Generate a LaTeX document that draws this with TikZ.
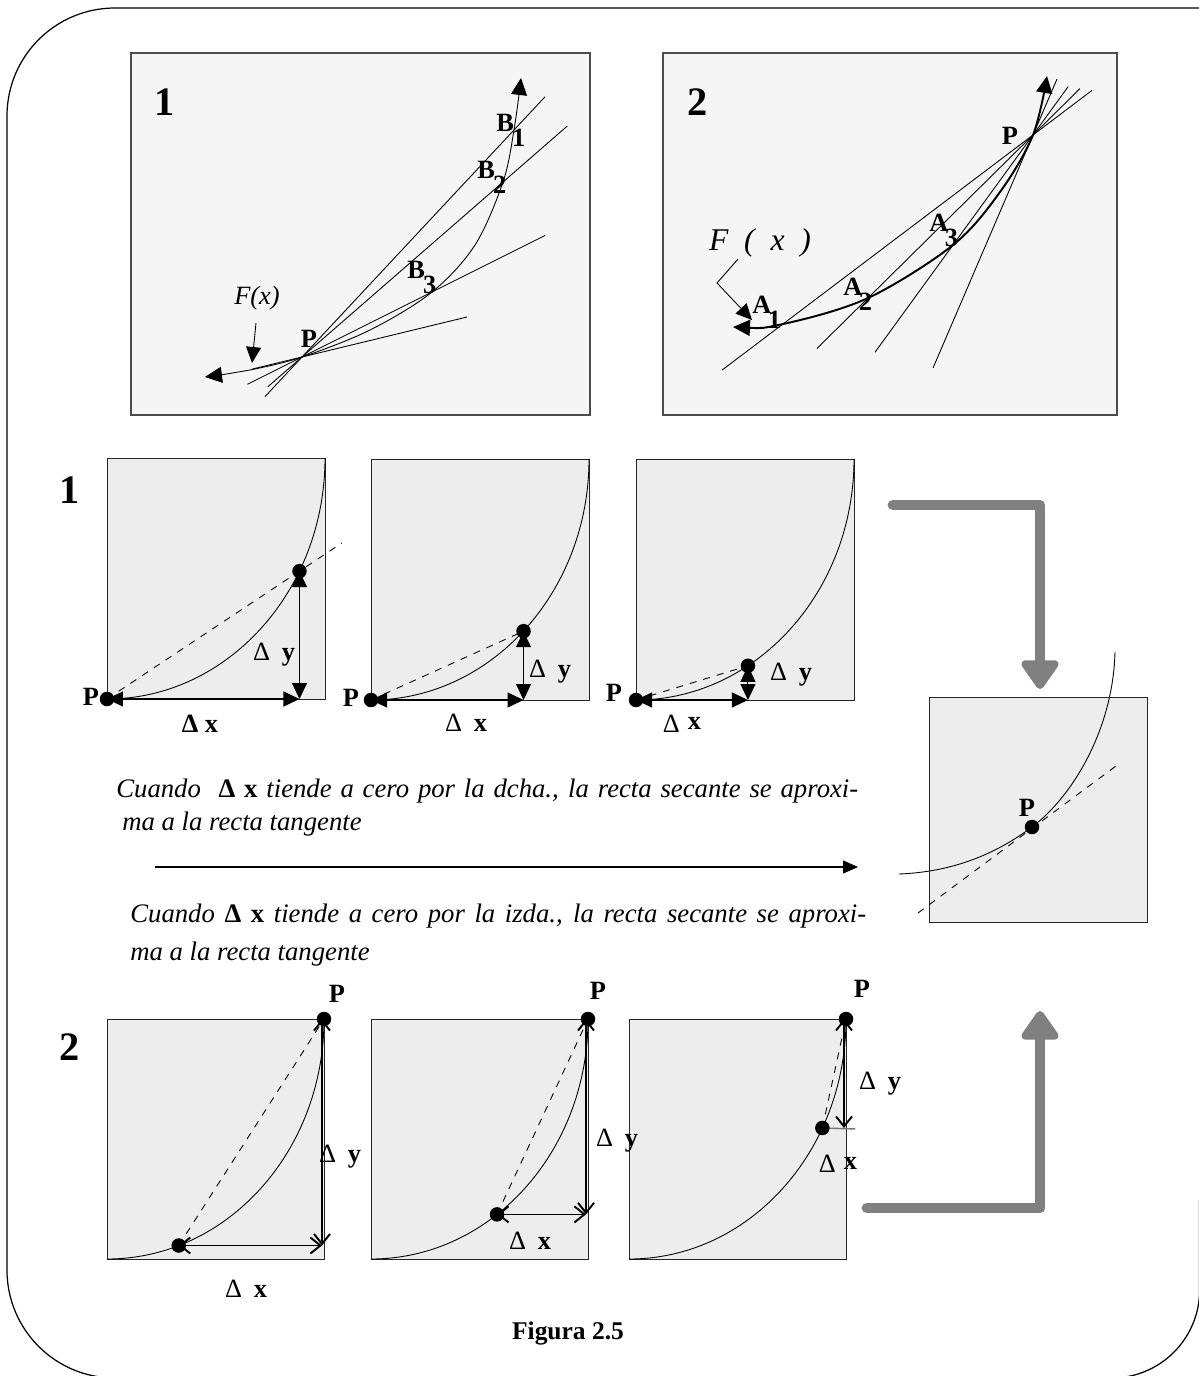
\documentclass[tikz,border=0pt]{standalone}
\usepackage{fontspec}
\setmainfont{Liberation Serif}
\usepackage{tikz}
\usetikzlibrary{arrows.meta,positioning,calc}

\newcommand{\dlt}[1]{{\mdseries Δ}\hspace{0.45em}\textbf{#1}}

\begin{document}
\begin{tikzpicture}[
  x=0.02cm, y=-0.02cm,
  font=\fontsize{14}{16}\selectfont,
  panel/.style={draw=black!70, fill=black!4, line width=0.6pt},
  cell/.style={draw=black!85, fill=black!7, line width=0.5pt},
  fine/.style={line width=0.5pt},
  sec/.style={dash pattern=on 4pt off 4pt, line width=0.5pt},
  pt/.style={circle, fill=black, inner sep=0pt, minimum size=0.29cm},
  lbl/.style={font=\fontsize{15}{17}\selectfont\bfseries, inner sep=0pt},
  big/.style={font=\fontsize{23}{26}\selectfont\bfseries, inner sep=0pt},
  note/.style={font=\fontsize{15.2}{18}\selectfont\itshape, anchor=base west, inner sep=0pt},
  solid tip/.style={{Triangle[length=0.32cm,width=0.3cm]}-{Triangle[length=0.32cm,width=0.3cm]}, line width=0.6pt},
  open tip/.style={{Straight Barb[length=0.2cm,width=0.32cm,line width=1.1pt]}-{Straight Barb[length=0.2cm,width=0.32cm,line width=1.1pt]}, line width=0.6pt},
  curve tip/.style={{Triangle[length=0.34cm,width=0.32cm]}-{Triangle[length=0.34cm,width=0.32cm]}},
  lead tip/.style={-{Triangle[length=0.32cm,width=0.3cm]}, line width=0.5pt},
  bigarrow/.style={line width=6.2pt, draw=black!50, line cap=round, line join=round,
                   -{Triangle[round,length=0.64cm,width=0.84cm]}},
]
\useasboundingbox (0,0) rectangle (1199,1376);

%─── Outer frame ──────────────────────────────────────────────────────────────
\draw[line width=0.7pt, rounded corners=2.16cm] (1210,8) -- (7,8) -- (7,1378) -- (700,1378);
\draw[line width=0.7pt, rounded corners=1.76cm] (700,1378) -- (1199.6,1378) -- (1199.6,1200);

%─── Panel 1 (top left): secants through P towards B_i ───────────────────────
\draw[panel] (131,53) rectangle (590,415);
\node[big] (n1top) at (165,102) {1};

\coordinate (P1) at (302,357);
\coordinate (B1) at (514,130);
\coordinate (B2) at (503,182);
\coordinate (B3) at (432,292);
\coordinate (T1) at (467,317);

\draw[fine] ($(P1)!-0.175!(B1)$) -- ($(P1)!1.146!(B1)$);
\draw[fine] ($(P1)!-0.17!(B2)$) -- ($(P1)!1.32!(B2)$);
\draw[fine] ($(P1)!-0.42!(B3)$) -- ($(P1)!1.87!(B3)$);
\draw[fine] ($(P1)!-0.3!(T1)$) -- (T1);

\draw[fine, curve tip] plot[smooth, tension=0.55] coordinates
      {(205,377) (250,370) (302,357) (370,330) (432,292) (475,245) (503,182) (514,130) (521,78)};

\node[lbl] (lP1) at (309,339) {P};
\node[lbl, anchor=base west] (lB1) at (496,131) {B\kern-1pt\raisebox{-0.6em}{1}};
\node[lbl, anchor=base west] (lB2) at (477,178) {B\kern-1pt\raisebox{-0.6em}{2}};
\node[lbl, anchor=base west] (lB3) at (407,278) {B\kern-1pt\raisebox{-0.6em}{3}};

\node[font=\fontsize{15}{17}\selectfont\itshape] (F1) at (257,298) {F(x)};
\coordinate (f1a) at (256,323);
\coordinate (f1b) at (252,363);
\draw[lead tip] (f1a) -- (f1b);

%─── Panel 2 (top right): secants through P towards A_i ──────────────────────
\draw[panel] (663,53) rectangle (1117,415);
\node[big] (n2top) at (698,102) {2};

\coordinate (P2) at (1033,135);
\coordinate (A1) at (783,324);
\coordinate (A2) at (868,298);
\coordinate (A3) at (953,245);
\coordinate (T2) at (933,368);

\draw[fine] ($(P2)!1.244!(A1)$) -- ($(P2)!-0.236!(A1)$);
\draw[fine] ($(P2)!1.31!(A2)$) -- ($(P2)!-0.285!(A2)$);
\draw[fine] ($(P2)!1.975!(A3)$) -- ($(P2)!-0.44!(A3)$);
\draw[fine] (T2) -- ($(P2)!-0.24!(T2)$);

\draw[line width=1.1pt, curve tip] plot[smooth, tension=0.55] coordinates
      {(733,327) (783,324) (868,298) (953,245) (1000,192) (1033,135) (1047,76)};

\node[lbl] (lP2) at (1010,136) {P};
\node[lbl, anchor=base west] (lA1) at (752,313) {A\kern-2pt\raisebox{-0.6em}{1}};
\node[lbl, anchor=base west] (lA2) at (843,295) {A\kern-2pt\raisebox{-0.6em}{2}};
\node[lbl, anchor=base west] (lA3) at (929,231) {A\kern-2pt\raisebox{-0.6em}{3}};

\node[font=\fontsize{18}{20}\selectfont\itshape] (F2) at (760,243) {F\ \ (\ \ x\ \ )};
\coordinate (f2a) at (738,259);
\coordinate (f2b) at (717,283);
\coordinate (f2c) at (752,320);
\draw[lead tip] (f2a) -- (f2b) -- (f2c);

%─── Row 1: Delta x -> 0 from the right ──────────────────────────────────────
\node[big] (n1mid) at (70,490) {1};

\foreach \ox/\oy/\t [count=\i] in {107/458/62, 371/459/44.4, 636/459/30.9} {
  \begin{scope}[shift={(\ox,\oy)}]
    \draw[cell] (0,0) rectangle (218,241);
    \draw[fine] (0,241) .. controls (120,241) and (218,133) .. (218,0);
    \coordinate (rp-\i) at (0,241);
    \coordinate (rq-\i) at ({218*sin(\t)},{241*cos(\t)});
    \coordinate (rc-\i) at ({218*sin(\t)},241);
  \end{scope}
}
\draw[sec] (rp-1) -- ($(rp-1)!1.22!(rq-1)$);
\foreach \i in {2,3} \draw[sec] (rp-\i) -- (rq-\i);
\foreach \i in {1,2,3} {
  \node[pt] (dp-\i) at (rp-\i) {};
  \node[pt] (dq-\i) at (rq-\i) {};
  \draw[solid tip] (rp-\i) -- (rc-\i);
  \draw[solid tip] (rq-\i) -- (rc-\i);
}

\node[lbl] (rP-1) at (91,697) {P};
\node[lbl] (rP-2) at (351,698) {P};
\node[lbl] (rP-3) at (614,693) {P};
\node[lbl] (ry-1) at (274,655) {\dlt{y}};
\node[lbl] (ry-2) at (550,672) {\dlt{y}};
\node[lbl] (ry-3) at (791,675) {\dlt{y}};
\node[lbl] (rx-1) at (200,724) {Δ x};
\node[lbl] (rx-2) at (466,723) {\dlt{x}};
\node[lbl] (rx-3) at (682,724) {{\mdseries Δ}\hspace{0.3em}\raisebox{0.3ex}{x}};

%─── Notes and limit arrow ───────────────────────────────────────────────────
\node[note] (t1) at (116,797)
  {\makebox[14.84cm][s]{Cuando\ \ \textup{\bfseries Δ x} tiende a cero por la dcha., la recta secante se aproxi-}};
\node[note] (t2) at (122,830) {ma a la recta tangente};
\node[note] (t3) at (130,922)
  {\makebox[14.72cm][s]{Cuando\ \textup{\bfseries Δ x} tiende a cero por la izda., la recta secante se aproxi-}};
\node[note] (t4) at (130,960) {ma a la recta tangente};

\coordinate (la) at (155,867);
\coordinate (lb) at (858,867);
\draw[line width=0.6pt, -{Triangle[length=0.3cm,width=0.26cm]}] (la) -- (lb);

%─── Limit box: tangent at P ─────────────────────────────────────────────────
\draw[cell] (929,697) rectangle (1147,922);
\coordinate (PL) at (1032,827);
\coordinate (tg1) at (918,913);
\coordinate (tg2) at (1120,763);
\draw[fine] (899,874) .. controls (950,872) and (993,856) .. (PL)
            .. controls (1072,797) and (1113,730) .. (1115,652);
\draw[sec] (tg1) -- (tg2);
\node[pt] (dPL) at (PL) {};
\node[lbl] (lPL) at (1027,808) {P};

\coordinate (ga) at (893,505);
\coordinate (gb) at (1040,505);
\coordinate (gc) at (1040,689);
\draw[bigarrow] (ga) -- (gb) -- (gc);

\coordinate (gd) at (867,1208);
\coordinate (ge) at (1040,1208);
\coordinate (gf) at (1040,1011);
\draw[bigarrow] (gd) -- (ge) -- (gf);

%─── Row 2: Delta x -> 0 from the left ───────────────────────────────────────
\node[big] (n2mid) at (70,1047) {2};

\foreach \ox/\t [count=\i] in {107/19.3, 371/35.5, 629/63} {
  \begin{scope}[shift={(\ox,1019)}]
    \draw[cell] (0,0) rectangle (217,240);
    \draw[fine] (0,240) .. controls (120,240) and (217,132.5) .. (217,0);
    \coordinate (sp-\i) at (217,0);
    \coordinate (sq-\i) at ({217*sin(\t)},{240*cos(\t)});
    \coordinate (sc-\i) at (215,{240*cos(\t)});
    \coordinate (st-\i) at (215,0);
  \end{scope}
}
\foreach \i in {1,2,3} \draw[sec] (sq-\i) -- (sp-\i);
\foreach \i in {1,2} \draw[open tip] (sq-\i) -- (sc-\i);
\foreach \i in {1,2,3} \draw[open tip] (st-\i) -- (sc-\i);
\coordinate (se-3) at ($(sq-3)+(33,1)$);
\draw[black!55, line width=0.8pt] (sq-3) -- (se-3);
\foreach \i in {1,2,3} {
  \node[pt] (dsp-\i) at (sp-\i) {};
  \node[pt] (dsq-\i) at (sq-\i) {};
}

\node[lbl] (sP-1) at (337,994) {P};
\node[lbl] (sP-2) at (598,991) {P};
\node[lbl] (sP-3) at (862,989) {P};
\node[lbl] (sy-1) at (340,1157) {\dlt{y}};
\node[lbl] (sy-2) at (617,1141) {\dlt{y}};
\node[lbl] (sy-3) at (880,1084) {\dlt{y}};
\node[lbl] (sx-1) at (246,1289) {\dlt{x}};
\node[lbl] (sx-2) at (530,1241) {\dlt{x}};
\node[lbl] (sx-3) at (838,1164) {{\mdseries Δ}\hspace{0.3em}\raisebox{0.3ex}{x}};

%─── Caption ─────────────────────────────────────────────────────────────────
\node[font=\fontsize{14.5}{17}\selectfont\bfseries] (cap) at (568,1333) {Figura 2.5};

\end{tikzpicture}
\end{document}
